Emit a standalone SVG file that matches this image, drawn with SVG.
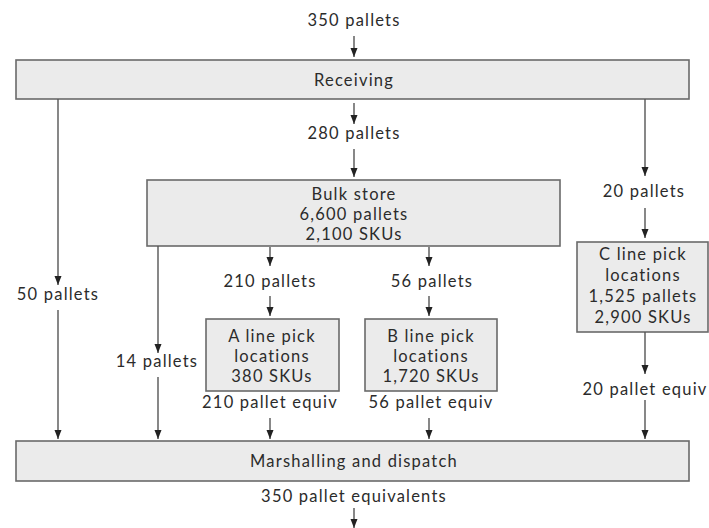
<svg xmlns="http://www.w3.org/2000/svg" width="709" height="528" viewBox="0 0 709 528">
<defs>
<marker id="a" markerWidth="9" markerHeight="8" refX="9" refY="4" orient="auto" markerUnits="userSpaceOnUse">
<path d="M0,0.5 L9,4 L0,7.5 Z" fill="#222"/>
</marker>
</defs>
<style>
.box{fill:#ebebeb;stroke:#6a6a6a;stroke-width:1.6}
.t{font-family:"Lato","Open Sans","Liberation Sans",sans-serif;font-size:16.5px;letter-spacing:1.2px;fill:#2b2b2b;text-anchor:middle}
.c line{stroke:#555;stroke-width:1.4;marker-end:url(#a)}
</style>
<rect width="709" height="528" fill="#fff"/>
<g id="receiving">
<rect class="box" x="16" y="60" width="673" height="39"/>
<text class="t" x="354" y="86">Receiving</text>
</g>
<g id="bulk">
<rect class="box" x="147" y="180" width="413" height="66"/>
<text class="t" x="354" y="200">Bulk store</text>
<text class="t" x="354" y="220">6,600 pallets</text>
<text class="t" x="354" y="240">2,100 SKUs</text>
</g>
<g id="aline">
<rect class="box" x="206" y="319" width="133" height="72"/>
<text class="t" x="272" y="342">A line pick</text>
<text class="t" x="272" y="362">locations</text>
<text class="t" x="272" y="382">380 SKUs</text>
</g>
<g id="bline">
<rect class="box" x="365" y="319" width="132" height="72"/>
<text class="t" x="431" y="342">B line pick</text>
<text class="t" x="431" y="362">locations</text>
<text class="t" x="431" y="382">1,720 SKUs</text>
</g>
<g id="cline">
<rect class="box" x="577" y="242" width="131" height="90"/>
<text class="t" x="643" y="260">C line pick</text>
<text class="t" x="643" y="281">locations</text>
<text class="t" x="643" y="302">1,525 pallets</text>
<text class="t" x="643" y="323">2,900 SKUs</text>
</g>
<g id="marshalling">
<rect class="box" x="16" y="441" width="673" height="40"/>
<text class="t" x="354" y="467">Marshalling and dispatch</text>
</g>
<g id="labels">
<text class="t" x="354" y="26">350 pallets</text>
<text class="t" x="354" y="139">280 pallets</text>
<text class="t" x="58" y="300">50 pallets</text>
<text class="t" x="644" y="197">20 pallets</text>
<text class="t" x="157" y="367">14 pallets</text>
<text class="t" x="270" y="287">210 pallets</text>
<text class="t" x="432" y="287">56 pallets</text>
<text class="t" x="270" y="408">210 pallet equiv</text>
<text class="t" x="431" y="408">56 pallet equiv</text>
<text class="t" x="645" y="395">20 pallet equiv</text>
<text class="t" x="354" y="502">350 pallet equivalents</text>
</g>
<g id="connectors" class="c">
<line x1="354" y1="36" x2="354" y2="57"/>
<line x1="354" y1="103" x2="354" y2="124"/>
<line x1="354" y1="149" x2="354" y2="177"/>
<line x1="58" y1="99" x2="58" y2="285"/>
<line x1="58" y1="310" x2="58" y2="439"/>
<line x1="645" y1="99" x2="645" y2="176"/>
<line x1="645" y1="208" x2="645" y2="238"/>
<line x1="645" y1="332" x2="645" y2="374"/>
<line x1="645" y1="400" x2="645" y2="439"/>
<line x1="158" y1="246" x2="158" y2="353"/>
<line x1="158" y1="377" x2="158" y2="439"/>
<line x1="270" y1="247" x2="270" y2="266"/>
<line x1="270" y1="296" x2="270" y2="316"/>
<line x1="429" y1="247" x2="429" y2="266"/>
<line x1="429" y1="296" x2="429" y2="316"/>
<line x1="270" y1="418" x2="270" y2="439"/>
<line x1="429" y1="418" x2="429" y2="439"/>
<line x1="354" y1="508" x2="354" y2="528"/>
</g>
</svg>
